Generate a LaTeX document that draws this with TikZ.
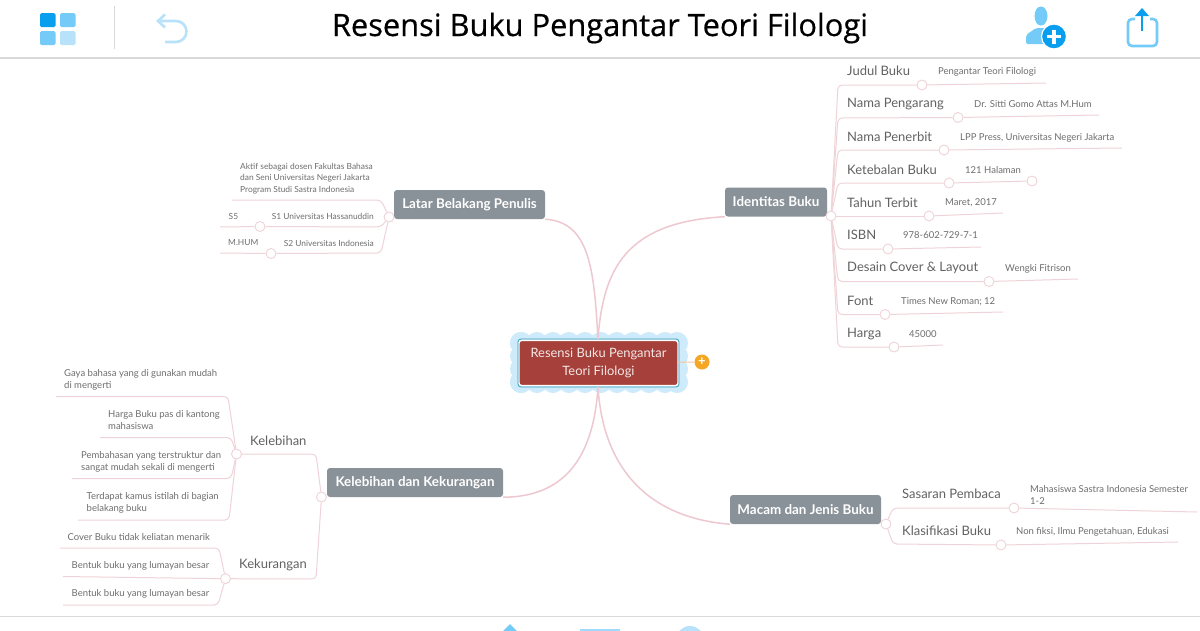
\documentclass[tikz,border=0pt]{standalone}
\usepackage{fontspec}
\setmainfont{Lato}
\newfontfamily\titlefont[FakeBold=0.5]{Open Sans}
\definecolor{twigpink}{HTML}{EFD3D8}
\definecolor{stempink}{HTML}{EEC8D0}
\definecolor{boxgray}{HTML}{8A9299}
\definecolor{rootred}{HTML}{A5403A}
\definecolor{cloudblue}{HTML}{CDEBFA}
\definecolor{rootteal}{HTML}{3E9DB8}
\definecolor{iconblue}{HTML}{0A9EEE}
\definecolor{iconmid}{HTML}{74CBF8}
\definecolor{iconpale}{HTML}{B8E2FA}
\definecolor{plusorange}{HTML}{F5A623}
\definecolor{barline}{HTML}{D9D9D9}
\definecolor{topictext}{HTML}{626262}
\definecolor{leaftext}{HTML}{6E6E6E}
\begin{document}
\begin{tikzpicture}
				[x=1pt,y=-1pt,
				mainbox/.style={rectangle,rounded corners=3pt,fill=boxgray,text=white,minimum height=29pt,inner sep=0pt,font=\fontsize{13.4}{15}\selectfont\bfseries},
				topic/.style={inner sep=0pt,anchor=west,text=topictext,font=\fontsize{13}{15}\selectfont},
				leaf/.style={inner sep=0pt,yshift=-1pt,text=leaftext,font=\fontsize{9.5}{12}\selectfont},
				smallleaf/.style={leaf,font=\fontsize{8.4}{11.6}\selectfont},
				knob/.style={circle,draw=twigpink,fill=white,line width=0.9pt,minimum size=10pt,inner sep=0pt},
				twig/.style={draw=twigpink,line width=1pt,rounded corners=4pt},
				stem/.style={draw=stempink,line width=1.5pt}]
				\clip (0,0) rectangle (1200,630);
				\fill[white] (0,0) rectangle (1200,630);
				\draw[barline,line width=1.4pt] (0,58) -- (1200,58);
				\draw[barline,line width=1.4pt] (0,616.5) -- (1200,616.5);
				\draw[barline,line width=0.8pt] (114.5,6) -- (114.5,49);
				\fill[iconblue,rounded corners=1.5pt] (40,13) rectangle (55.5,27);
				\fill[iconmid,rounded corners=1.5pt] (60,13) rectangle (75.5,27);
				\fill[iconmid,rounded corners=1.5pt] (40,31) rectangle (55.5,45);
				\fill[iconpale,rounded corners=1.5pt] (60,31) rectangle (75.5,45);
				\draw[iconpale,line width=2.6pt] (159,21) -- (176,21) arc[start angle=-90,end angle=90,radius=10.5] -- (165,42);
				\draw[iconpale,line width=2.6pt] (165,14.5) -- (158,21) -- (165,27.5);
				\fill[iconmid] (1041,16) ellipse[x radius=6.5,y radius=9.5];
				\fill[iconmid,rounded corners=2pt] (1026,44) -- (1026,35) -- (1036,28) -- (1047,28) -- (1052,44) -- cycle;
				\fill[iconblue,draw=white,line width=1.2pt] (1054,36.5) circle[radius=12.5];
				\draw[white,line width=3.4pt] (1047,36.5) -- (1061,36.5);
				\draw[white,line width=3.4pt] (1054,29.5) -- (1054,43.5);
				\draw[iconmid,line width=2.6pt,rounded corners=4pt] (1135,19) -- (1128,19) -- (1128,46) -- (1157,46) -- (1157,19) -- (1150,19);
				\draw[iconblue,line width=2.6pt] (1142,31) -- (1142,11);
				\fill[iconblue] (1142,8) -- (1149,16) -- (1135,16) -- cycle;
				\fill[iconmid] (510,624) -- (517,631) -- (503,631) -- cycle;
				\fill[iconmid!70!white] (580,629) rectangle (620,632);
				\fill[iconpale] (690,640) circle[radius=14];
				\node[inner sep=0pt,font=\titlefont\fontsize{30.8}{34}\selectfont,name=title] at (600,28) {Resensi Buku Pengantar Teori Filologi};
				\fill[cloudblue] (515,338) rectangle (683,387);
				\foreach \cloudx in {521,537,...,677} {
					\fill[cloudblue] (\cloudx,343) circle[radius=11];
					\fill[cloudblue] (\cloudx,382) circle[radius=11];
				}
				\foreach \cloudy in {343,356,369,382} {
					\fill[cloudblue] (521,\cloudy) circle[radius=11];
					\fill[cloudblue] (677,\cloudy) circle[radius=11];
				}
				\node[rectangle,rounded corners=2.5pt,fill=rootred,draw=white,line width=1.4pt,text=white!88!rootred,minimum width=159pt,minimum height=45pt,inner sep=0pt,align=center,font=\fontsize{12.9}{17.5}\selectfont,name=root,outer sep=0pt] at (598.5,363) {Resensi Buku Pengantar\\Teori Filologi};
				\draw[rootteal,line width=0.8pt,rounded corners=3pt] (518,339) rectangle (679,387);
				\node[circle,fill=plusorange,minimum size=15pt,inner sep=0pt,text=white,font=\fontsize{13}{13}\selectfont\bfseries,name=plus] at (702,362) {+};
				\draw[twigpink!70!plusorange,line width=1pt] (root) -- (plus);
				\node[mainbox,minimum width=102pt,name=identitas] at (776,202) {Identitas Buku};
				\node[mainbox,minimum width=151pt,name=latar] at (469.5,204.5) {Latar Belakang Penulis};
				\node[mainbox,minimum width=176pt,name=kelebihankurang] at (415,482.5) {Kelebihan dan Kekurangan};
				\node[mainbox,minimum width=151pt,name=macam] at (805.5,509.5) {Macam dan Jenis Buku};
				\coordinate (roottop) at (598,339);
				\coordinate (rootbot) at (598,387);
				\draw[stem] (roottop) .. controls (603,270) and (625,222) .. (identitas.south west);
				\draw[stem] (roottop) .. controls (594,270) and (590,222) .. (latar.south east);
				\draw[stem] (rootbot) .. controls (594,450) and (570,497) .. (kelebihankurang.south east);
				\draw[stem] (rootbot) .. controls (603,470) and (650,518) .. (macam.south west);
				\node[knob,name=jidentitas] at (831,216) {};
				\node[knob,name=jlatar] at (389,217) {};
				\node[knob,name=jkelebihankurang] at (321.5,497) {};
				\node[knob,name=jmacam] at (886,524) {};
				\node[knob,name=kjudul] at (922,85) {};
				\node[knob,name=kpengarang] at (958,117.5) {};
				\node[knob,name=kpenerbit] at (944,150) {};
				\node[knob,name=ktebal] at (949,183) {};
				\node[knob,name=ktebalend] at (1032,181) {};
				\node[knob,name=ktahun] at (929,216) {};
				\node[knob,name=kisbn] at (888,249) {};
				\node[knob,name=kdesain] at (989,281.5) {};
				\node[knob,name=kfont] at (885,314.5) {};
				\node[knob,name=kharga] at (894,347) {};
				\node[knob,name=ks1] at (260,226.5) {};
				\node[knob,name=ks2] at (271,253.5) {};
				\node[knob,name=kkelebihan] at (236.5,454) {};
				\node[knob,name=kkekurangan] at (225.5,578.7) {};
				\node[knob,name=ksasaran] at (1014,508) {};
				\node[knob,name=kklasifikasi] at (1001,545) {};
				\coordinate (ejudul) at (1046,83);
				\coordinate (epengarang) at (1099,115);
				\coordinate (epenerbit) at (1122,148);
				\coordinate (etahun) at (1003,213);
				\coordinate (eisbn) at (981,247);
				\coordinate (edesain) at (1078,279);
				\coordinate (efont) at (1003,312);
				\coordinate (eharga) at (943,345);
				\coordinate (eaktif) at (232,200);
				\coordinate (es1) at (220,227);
				\coordinate (es2) at (220,253);
				\coordinate (egaya) at (56,396.5);
				\coordinate (eharga2) at (100,437.5);
				\coordinate (ebahas) at (72,478.5);
				\coordinate (ekamus) at (78,520);
				\coordinate (ecover) at (60,548);
				\coordinate (ebentuka) at (63,576.5);
				\coordinate (ebentukb) at (63,605);
				\coordinate (esasaran) at (1197,512);
				\coordinate (eklasifikasi) at (1178,542);
				\draw[twig] (jidentitas) -- (838,85) -- (kjudul);
				\draw[twig] (jidentitas) -- (838,118) -- (kpengarang);
				\draw[twig] (jidentitas) -- (838,150) -- (kpenerbit);
				\draw[twig] (jidentitas) -- (838,183) -- (ktebal);
				\draw[twig] (jidentitas) -- (ktahun);
				\draw[twig] (jidentitas) -- (838,249) -- (kisbn);
				\draw[twig] (jidentitas) -- (838,281.5) -- (kdesain);
				\draw[twig] (jidentitas) -- (838,314.5) -- (kfont);
				\draw[twig] (jidentitas) -- (838,347) -- (kharga);
				\draw[twig] (kjudul) -- (ejudul);
				\draw[twig] (kpengarang) -- (epengarang);
				\draw[twig] (kpenerbit) -- (epenerbit);
				\draw[twig] (ktebal) -- (ktebalend);
				\draw[twig] (ktahun) -- (etahun);
				\draw[twig] (kisbn) -- (eisbn);
				\draw[twig] (kdesain) -- (edesain);
				\draw[twig] (kfont) -- (efont);
				\draw[twig] (kharga) -- (eharga);
				\draw[twig] (jlatar) -- (381,200) -- (eaktif);
				\draw[twig] (jlatar) -- (381,227) -- (ks1);
				\draw[twig] (jlatar) -- (381,253) -- (ks2);
				\draw[twig] (ks1) -- (es1);
				\draw[twig] (ks2) -- (es2);
				\draw[twig] (jkelebihankurang) -- (316,454) -- (kkelebihan);
				\draw[twig] (jkelebihankurang) -- (316,579) -- (kkekurangan);
				\draw[twig] (kkelebihan) -- (228,396.5) -- (egaya);
				\draw[twig] (kkelebihan) -- (231,437.5) -- (eharga2);
				\draw[twig] (kkelebihan) -- (231,478.5) -- (ebahas);
				\draw[twig] (kkelebihan) -- (229,520) -- (ekamus);
				\draw[twig] (kkekurangan) -- (219,548) -- (ecover);
				\draw[twig] (kkekurangan) -- (ebentuka);
				\draw[twig] (kkekurangan) -- (218,605) -- (ebentukb);
				\draw[twig] (jmacam) -- (893,508) -- (ksasaran);
				\draw[twig] (jmacam) -- (893,544) -- (kklasifikasi);
				\draw[twig] (ksasaran) -- (esasaran);
				\draw[twig] (kklasifikasi) -- (eklasifikasi);
				\node[topic,name=tjudul] at (847,71) {Judul Buku};
				\node[topic,name=tpengarang] at (847,104) {Nama Pengarang};
				\node[topic,name=tpenerbit] at (847,136.5) {Nama Penerbit};
				\node[topic,name=ttebal] at (847,169.5) {Ketebalan Buku};
				\node[topic,name=ttahun] at (847,202.5) {Tahun Terbit};
				\node[topic,name=tisbn] at (847,235) {ISBN};
				\node[topic,name=tdesain] at (847,268) {Desain Cover \& Layout};
				\node[topic,name=tfont] at (847,301) {Font};
				\node[topic,name=tharga] at (847,334) {Harga};
				\node[topic,name=tkelebihan] at (250,440.5) {Kelebihan};
				\node[topic,name=tkekurangan] at (239,565) {Kekurangan};
				\node[topic,name=tsasaran] at (902,494) {Sasaran Pembaca};
				\node[topic,name=tklasifikasi] at (902,531) {Klasifikasi Buku};
				\node[leaf,anchor=west,name=vjudul] at (938,71) {Pengantar Teori Filologi};
				\node[leaf,anchor=west,name=vpengarang] at (974,103.5) {Dr. Sitti Gomo Attas M.Hum};
				\node[leaf,anchor=west,name=vpenerbit] at (960,136.5) {LPP Press, Universitas Negeri Jakarta};
				\node[leaf,anchor=west,name=vtebal] at (965,169) {121 Halaman};
				\node[leaf,anchor=west,name=vtahun] at (945,202) {Maret, 2017};
				\node[leaf,anchor=west,name=visbn] at (903,234.5) {978-602-729-7-1};
				\node[leaf,anchor=west,name=vdesain] at (1005,267.5) {Wengki Fitrison};
				\node[leaf,anchor=west,name=vfont] at (901,300.5) {Times New Roman; 12};
				\node[leaf,anchor=west,name=vharga] at (909,333) {45000};
				\node[smallleaf,anchor=west,align=left,name=vaktif] at (240,177.5) {Aktif sebagai dosen Fakultas Bahasa\\dan Seni Universitas Negeri Jakarta\\Program Studi Sastra Indonesia};
				\node[smallleaf,anchor=east,name=vs1] at (374,215) {S1 Universitas Hassanuddin};
				\node[smallleaf,anchor=west,name=vs5] at (228.5,215) {S5};
				\node[smallleaf,anchor=east,name=vs2] at (374,242) {S2 Universitas Indonesia};
				\node[smallleaf,anchor=west,name=vhum] at (228,242) {M.HUM};
				\node[leaf,anchor=west,align=left,name=vgaya] at (64,378.5) {Gaya bahasa yang di gunakan mudah\\di mengerti};
				\node[leaf,anchor=west,align=left,name=vharga2] at (108,419.5) {Harga Buku pas di kantong\\mahasiswa};
				\node[leaf,anchor=west,align=left,name=vbahas] at (81,460.5) {Pembahasan yang terstruktur dan\\sangat mudah sekali di mengerti};
				\node[leaf,anchor=west,align=left,name=vkamus] at (86.5,502) {Terdapat kamus istilah di bagian\\belakang buku};
				\node[leaf,anchor=west,name=vcover] at (67.5,536) {Cover Buku tidak keliatan menarik};
				\node[leaf,anchor=west,name=vbentuka] at (71.5,564.5) {Bentuk buku yang lumayan besar};
				\node[leaf,anchor=west,name=vbentukb] at (71.5,593) {Bentuk buku yang lumayan besar};
				\node[leaf,anchor=west,align=left,name=vsasaran] at (1030,493.5) {Mahasiswa Sastra Indonesia Semester\\1-2};
				\node[leaf,anchor=west,name=vklasifikasi] at (1016,530.5) {Non fiksi, Ilmu Pengetahuan, Edukasi};
			\end{tikzpicture}
\end{document}
